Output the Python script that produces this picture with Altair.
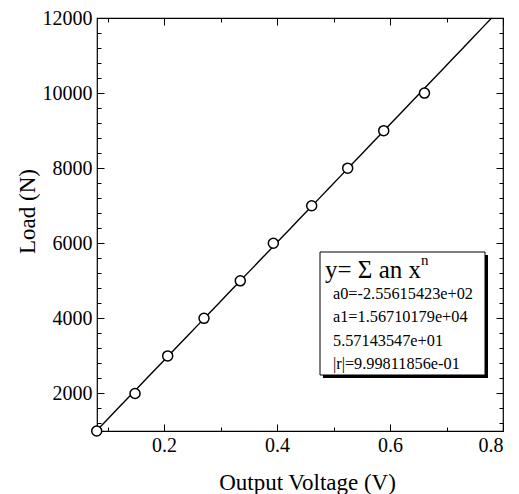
import altair as alt
import pandas as pd

# ---- data ----
loads = [1000, 2000, 3000, 4000, 5000, 6000, 7000, 8000, 9000, 10000]
voltages = [0.0809, 0.1487, 0.2065, 0.2708, 0.3350, 0.3935, 0.4614, 0.5251, 0.5889, 0.6610]

# fit coefficients shown in the legend box (y = a0 + a1 x + a2 x^2)
coef = [-2.55615423e+02, 1.56710179e+04, 5.57143547e+01]
r_value = 9.99811856e-01

x_major = [0.2, 0.4, 0.6, 0.8]
x_minor = [0.1, 0.3, 0.5, 0.7]
y_major = [2000, 4000, 6000, 8000, 10000, 12000]
y_minor = [v for v in range(1200, 12000, 400) if v % 2000 != 0]

box_lines = [
    "a0=-2.55615423e+02",
    "a1=1.56710179e+04",
    "5.57143547e+01",
    "|r|=9.99811856e-01",
]

X_DOM = [0.0814, 0.8]
Y_DOM = [1000, 12000]
FONT = "Liberation Serif"
W, H = 406, 413

pts = pd.DataFrame({"v": voltages, "load": loads})
fit_x = [voltages[0] + i * (X_DOM[1] - voltages[0]) / 40 for i in range(41)]
fit = pd.DataFrame({"v": fit_x, "load": [coef[0] + coef[1] * x + coef[2] * x * x for x in fit_x]})

xs = alt.Scale(domain=X_DOM, nice=False, zero=False)
ys = alt.Scale(domain=Y_DOM, nice=False, zero=False)


def tick_axis(orient, values, size):
    return alt.Axis(orient=orient, values=values, labels=False, domain=False, grid=False,
                    ticks=True, tickSize=size, offset=-size, tickColor="black", tickWidth=1,
                    title=None)


# main line with label axes
line = alt.Chart(fit).mark_line(color="black", strokeWidth=1.4, clip=True).encode(
    x=alt.X("v:Q", scale=xs, axis=alt.Axis(
        orient="bottom", values=x_major, format=".1f", grid=False, domain=False, ticks=False,
        tickSize=0, labelPadding=20, labelBaseline="alphabetic", labelFont=FONT,
        labelFontSize=20, labelColor="black", title="Output Voltage (V)", titleFont=FONT,
        titleFontSize=23, titleFontWeight="normal", titleColor="black", titleX=210,
        titleY=51, titleBaseline="middle", titleAlign="center")),
    y=alt.Y("load:Q", scale=ys, axis=alt.Axis(
        orient="left", values=y_major, format="d", grid=False, domain=False, ticks=False,
        tickSize=0, labelPadding=5, labelFont=FONT, labelFontSize=20, labelColor="black",
        title="Load (N)", titleFont=FONT, titleFontSize=23, titleFontWeight="normal",
        titleColor="black", titleX=-70, titleY=193, titleAngle=-90, titleBaseline="middle",
        titleAlign="center")),
)

base_pts = alt.Chart(pts)

points = base_pts.mark_point(shape="circle", size=100, filled=True, fill="white",
                             stroke="black", strokeWidth=1.5, opacity=1).encode(
    x=alt.X("v:Q", scale=xs, axis=tick_axis("bottom", x_major, 7)),
    y=alt.Y("load:Q", scale=ys, axis=tick_axis("left", y_major, 7)),
)


def ghost(xax, yax):
    return base_pts.mark_point(opacity=0).encode(
        x=alt.X("v:Q", scale=xs, axis=xax),
        y=alt.Y("load:Q", scale=ys, axis=yax),
    )


g1 = ghost(tick_axis("bottom", x_minor, 4), tick_axis("left", y_minor, 4))
g2 = ghost(tick_axis("top", x_major, 7), tick_axis("right", y_major, 7))
g3 = ghost(tick_axis("top", x_minor, 4), tick_axis("right", y_minor, 4))

# legend box
one = pd.DataFrame({"k": [0]})
shadow = alt.Chart(one).mark_rect(fill="black").encode(
    x=alt.value(226), x2=alt.value(391), y=alt.value(237), y2=alt.value(360))
box = alt.Chart(one).mark_rect(fill="white", stroke="black", strokeWidth=1).encode(
    x=alt.value(223), x2=alt.value(388), y=alt.value(234), y2=alt.value(357))
head = alt.Chart(one).mark_text(text="y= Σ an x", font=FONT, fontSize=25, align="left",
                                baseline="alphabetic", color="black").encode(
    x=alt.value(228), y=alt.value(260))
sup = alt.Chart(one).mark_text(text="n", font=FONT, fontSize=15, align="left",
                               baseline="middle", color="black").encode(
    x=alt.value(324), y=alt.value(242))

line_y = [275.5, 299, 322.5, 346]
body = [
    alt.Chart(one).mark_text(text=t, font=FONT, fontSize=16.3, align="left",
                             baseline="middle", color="black").encode(
        x=alt.value(236), y=alt.value(yy))
    for t, yy in zip(box_lines, line_y)
]

chart = alt.layer(line, points, g1, g2, g3, shadow, box, head, sup, *body).resolve_axis(
    x="independent", y="independent"
).properties(
    width=W, height=H,
    autosize=alt.AutoSizeParams(type="none"),
    padding={"left": 97, "top": 18, "right": 16, "bottom": 63},
    background="white",
).configure_view(stroke="black", strokeWidth=1.2)

chart.save("out.html", embed_options={"renderer": "svg", "actions": False})
